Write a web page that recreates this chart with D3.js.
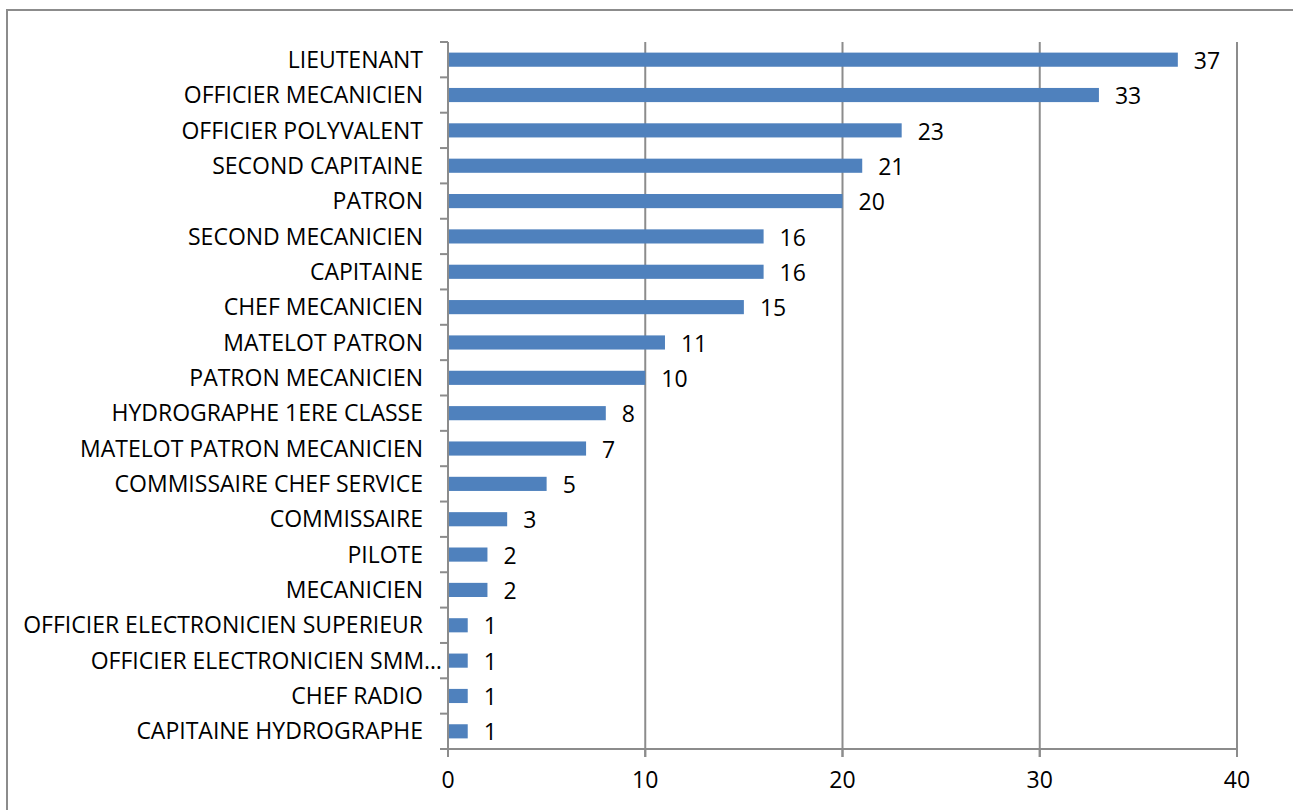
<!DOCTYPE html>
<html><head><meta charset="utf-8">
<script src="https://cdn.jsdelivr.net/npm/d3@7"></script>
<style>body{margin:0;background:#fff}svg{display:block}</style>
</head><body>
<script>
const categories = ["LIEUTENANT","OFFICIER MECANICIEN","OFFICIER POLYVALENT","SECOND CAPITAINE","PATRON","SECOND MECANICIEN","CAPITAINE","CHEF MECANICIEN","MATELOT PATRON","PATRON MECANICIEN","HYDROGRAPHE 1ERE CLASSE","MATELOT PATRON MECANICIEN","COMMISSAIRE CHEF SERVICE","COMMISSAIRE","PILOTE","MECANICIEN","OFFICIER ELECTRONICIEN SUPERIEUR","OFFICIER ELECTRONICIEN SMM…","CHEF RADIO","CAPITAINE HYDROGRAPHE"];
const values = [37,33,23,21,20,16,16,15,11,10,8,7,5,3,2,2,1,1,1,1];
const xTicks = [0,10,20,30,40];

const W = 1293, H = 810;
const svg = d3.select("body").append("svg").attr("width", W).attr("height", H);
const font = "'Open Sans', sans-serif";
const fs = 23;

svg.append("rect").attr("x",7).attr("y",10).attr("width",W).attr("height",H)
  .attr("fill","#fff").attr("stroke","#8c8c8c").attr("stroke-width",2);

const pLeft = 448, pRight = 1237, pTop = 42, pBottom = 749;
const x = d3.scaleLinear().domain([0,40]).range([pLeft,pRight]);
const y = d3.scaleBand().domain(categories).range([pTop,pBottom]).paddingInner(0.6).paddingOuter(0.3);

// gridlines
svg.append("g").selectAll("line").data(xTicks.slice(1)).join("line")
  .attr("x1",d=>x(d)).attr("x2",d=>x(d)).attr("y1",pTop).attr("y2",pBottom+8)
  .attr("stroke","#8c8c8c").attr("stroke-width",2);

// bars
svg.append("g").selectAll("rect").data(values).join("rect")
  .attr("x",x(0)).attr("y",(d,i)=>y(categories[i]))
  .attr("width",d=>x(d)-x(0)).attr("height",y.bandwidth())
  .attr("fill","#4f81bd");

// value labels
svg.append("g").selectAll("text").data(values).join("text")
  .attr("x",d=>x(d)+16).attr("y",(d,i)=>y(categories[i])+y.bandwidth()/2+3)
  .attr("dominant-baseline","middle").attr("font-family",font).attr("font-size",fs)
  .attr("fill","#000").text(d=>d);

// y axis
const band = (pBottom-pTop)/categories.length;
const yAxis = svg.append("g");
yAxis.append("line").attr("x1",pLeft).attr("x2",pLeft).attr("y1",pTop).attr("y2",pBottom)
  .attr("stroke","#8c8c8c").attr("stroke-width",2);
yAxis.selectAll("line.t").data(d3.range(categories.length+1)).join("line").attr("class","t")
  .attr("x1",pLeft-8).attr("x2",pLeft).attr("y1",i=>pTop+i*band).attr("y2",i=>pTop+i*band)
  .attr("stroke","#8c8c8c").attr("stroke-width",2);
yAxis.selectAll("text").data(categories).join("text")
  .attr("x",(d,i)=> i===17 ? pLeft-6 : pLeft-25).attr("y",d=>y(d)+y.bandwidth()/2+2)
  .attr("text-anchor","end").attr("dominant-baseline","middle")
  .attr("font-family",font).attr("font-size",fs).attr("fill","#000").text(d=>d);

// x axis
const xAxis = svg.append("g");
xAxis.append("line").attr("x1",pLeft).attr("x2",pRight).attr("y1",pBottom).attr("y2",pBottom)
  .attr("stroke","#8c8c8c").attr("stroke-width",2);
xAxis.selectAll("line.t").data(xTicks).join("line").attr("class","t")
  .attr("x1",d=>x(d)).attr("x2",d=>x(d)).attr("y1",pBottom).attr("y2",pBottom+8)
  .attr("stroke","#8c8c8c").attr("stroke-width",2);
xAxis.selectAll("text").data(xTicks).join("text")
  .attr("x",d=>x(d)).attr("y",pBottom+33).attr("text-anchor","middle").attr("dominant-baseline","middle")
  .attr("font-family",font).attr("font-size",fs).attr("fill","#000").text(d=>d);
</script>
</body></html>
